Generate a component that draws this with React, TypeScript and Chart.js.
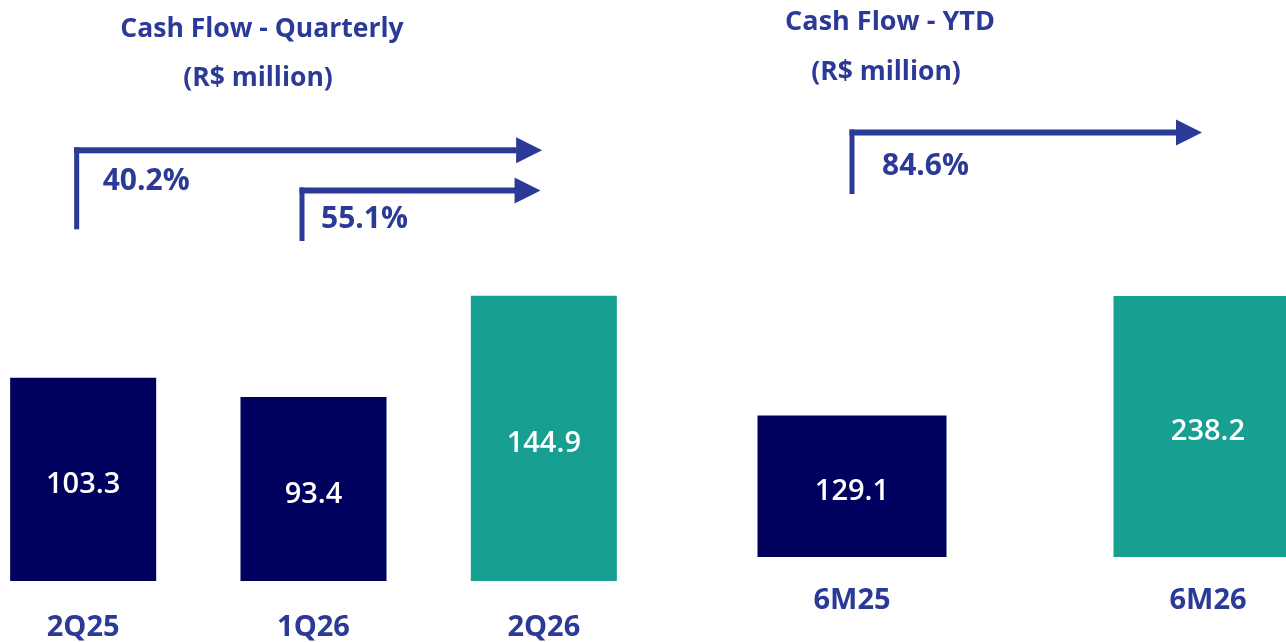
import React, { useEffect, useRef } from 'react';
import { Chart, registerables } from 'chart.js';

Chart.register(...registerables);

// ---- Data ----
const quarterCategories = ['2Q25', '1Q26', '2Q26'];
const quarterValues = [103.3, 93.4, 144.9];
const quarterGrowth = ['40.2%', '55.1%'];

const ytdCategories = ['6M25', '6M26'];
const ytdValues = [129.1, 238.2];
const ytdGrowth = ['84.6%'];

const quarterTitle = ['Cash Flow - Quarterly', '(R$ million)'];
const ytdTitle = ['Cash Flow - YTD', '(R$ million)'];

// ---- Styles ----
const NAVY = '#00005E';
const TEAL = '#179F91';
const TEXT = '#2B3A96';
const FONT = '"Open Sans", "Noto Sans", sans-serif';
const WEIGHT = '700';

const quarterColors = [NAVY, NAVY, TEAL];
const ytdColors = [NAVY, TEAL];

type ArrowSpec = {
  from: number;
  to: number;
  dx: number;
  tipDx: number;
  lineY: number;
  bottomY: number;
  labelDx: number;
  capY: number;
};

type TitleSpec = { x: number; capY: number; size: number };

const decorPlugin = {
  id: 'decor',
  afterDatasetsDraw(chart: any, _args: any, opts: any) {
    const ctx: CanvasRenderingContext2D = chart.ctx;
    const meta = chart.getDatasetMeta(0);
    const data = chart.data.datasets[0].data as number[];
    ctx.save();

    // value labels inside bars
    const vSize = 29;
    ctx.fillStyle = '#FFFFFF';
    ctx.font = `600 ${vSize}px ${FONT}`;
    ctx.textAlign = 'center';
    ctx.textBaseline = 'alphabetic';
    meta.data.forEach((bar: any, i: number) => {
      const p = bar.getProps(['x', 'y', 'base'], true);
      const capCenter = (p.y + p.base) / 2 + 3.5;
      ctx.fillText(data[i].toFixed(1), p.x, capCenter + 0.357 * vSize);
    });

    // titles
    ctx.fillStyle = TEXT;
    (opts.titles as string[]).forEach((t, i) => {
      const spec: TitleSpec = opts.titlePos[i];
      ctx.font = `${WEIGHT} ${spec.size}px ${FONT}`;
      ctx.textAlign = 'center';
      ctx.fillText(t, spec.x - opts.originX, spec.capY + 0.357 * spec.size);
    });

    // growth arrows
    const gSize = 30;
    (opts.arrows as ArrowSpec[]).forEach((a, i) => {
      const x0 = meta.data[a.from].x + a.dx;
      const tip = meta.data[a.to].x + a.tipDx;
      const headLen = 26;
      const half = 13;
      ctx.fillStyle = TEXT;
      ctx.fillRect(x0 - 2.5, a.lineY - 3, 5, a.bottomY - a.lineY + 3);
      ctx.fillRect(x0 - 2.5, a.lineY - 3, tip - headLen - x0 + 3, 6);
      ctx.beginPath();
      ctx.moveTo(tip - headLen, a.lineY - half);
      ctx.lineTo(tip, a.lineY);
      ctx.lineTo(tip - headLen, a.lineY + half);
      ctx.closePath();
      ctx.fill();
      ctx.font = `${WEIGHT} ${gSize}px ${FONT}`;
      ctx.textAlign = 'left';
      ctx.fillText(opts.growth[i], x0 + a.labelDx, a.capY + 0.357 * gSize);
    });

    ctx.restore();
  },
};

type PanelProps = {
  categories: string[];
  values: number[];
  colors: string[];
  growth: string[];
  titles: string[];
  titlePos: TitleSpec[];
  arrows: ArrowSpec[];
  left: number;
  width: number;
  height: number;
  padTop: number;
  yMax: number;
  tickPad: number;
  barPct: number;
};

function Panel(props: PanelProps) {
  const ref = useRef<HTMLCanvasElement | null>(null);
  useEffect(() => {
    if (!ref.current) return;
    const chart = new Chart(ref.current, {
      type: 'bar',
      data: {
        labels: props.categories,
        datasets: [
          {
            data: props.values,
            backgroundColor: props.colors,
            borderWidth: 0,
            barPercentage: props.barPct,
            categoryPercentage: 1,
          },
        ],
      },
      options: {
        responsive: false,
        animation: false,
        events: [],
        layout: { padding: { top: props.padTop, left: 0, right: 0, bottom: 0 } },
        plugins: {
          legend: { display: false },
          tooltip: { enabled: false },
          title: { display: false },
          decor: {
            titles: props.titles,
            titlePos: props.titlePos,
            arrows: props.arrows,
            growth: props.growth,
            originX: props.left,
          },
        } as any,
        scales: {
          x: {
            grid: { display: false, drawTicks: false },
            border: { display: false },
            ticks: {
              color: TEXT,
              font: { family: FONT, size: 29, weight: WEIGHT, lineHeight: 1 } as any,
              padding: props.tickPad,
              autoSkip: false,
              maxRotation: 0,
            },
          },
          y: { display: false, min: 0, max: props.yMax },
        },
      },
      plugins: [decorPlugin],
    });
    return () => chart.destroy();
  }, []);
  return (
    <canvas
      ref={ref}
      width={props.width}
      height={props.height}
      style={{ position: 'absolute', left: props.left, top: 0, width: props.width, height: props.height }}
    />
  );
}

export default function App() {
  return (
    <div
      style={{
        position: 'fixed',
        left: 0,
        top: 0,
        width: 1286,
        height: 642,
        overflow: 'hidden',
        background: '#FFFFFF',
      }}
    >
      <Panel
        categories={quarterCategories}
        values={quarterValues}
        colors={quarterColors}
        growth={quarterGrowth}
        titles={quarterTitle}
        titlePos={[
          { x: 262, capY: 27.5, size: 26.5 },
          { x: 258, capY: 76.5, size: 26.5 },
        ]}
        arrows={[
          { from: 0, to: 2, dx: -6.5, tipDx: -1.7, lineY: 150.3, bottomY: 229.3, labelDx: 26, capY: 179 },
          { from: 1, to: 2, dx: -11.5, tipDx: -3.3, lineY: 190.5, bottomY: 241, labelDx: 19, capY: 217.5 },
        ]}
        left={-32}
        width={691}
        height={675}
        padTop={266}
        yMax={160}
        tickPad={32.5}
        barPct={0.634}
      />
      <Panel
        categories={ytdCategories}
        values={ytdValues}
        colors={ytdColors}
        growth={ytdGrowth}
        titles={ytdTitle}
        titlePos={[
          { x: 890, capY: 20, size: 27 },
          { x: 886, capY: 71, size: 26.5 },
        ]}
        arrows={[{ from: 0, to: 1, dx: 0, tipDx: -6, lineY: 132.5, bottomY: 194, labelDx: 30, capY: 164.5 }]}
        left={674}
        width={712}
        height={645}
        padTop={272}
        yMax={260}
        tickPad={29.5}
        barPct={0.531}
      />
    </div>
  );
}
